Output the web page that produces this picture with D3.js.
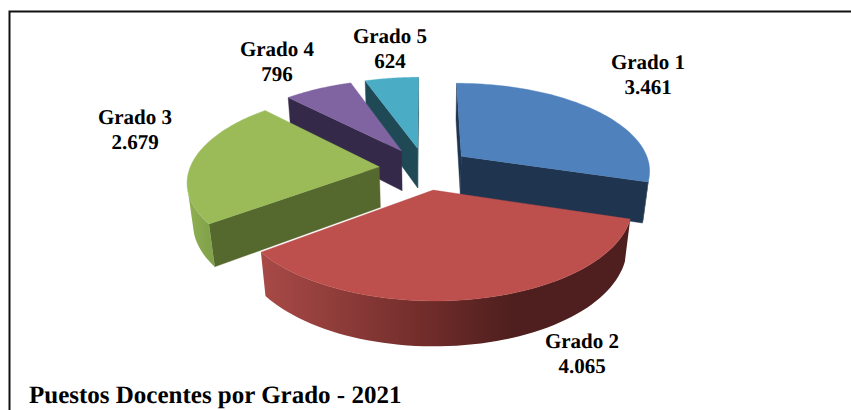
<!DOCTYPE html>
<html>
<head>
<meta charset="utf-8">
<script src="https://cdn.jsdelivr.net/npm/d3@7"></script>
<style>
    html, body { margin: 0; padding: 0; background: #fff; overflow: hidden; }
    text { font-family: "Liberation Serif", serif; font-weight: bold; fill: #000; text-rendering: geometricPrecision; }
</style>
</head>
<body>
<svg id="chart"></svg>
<script>
const categories = ["Grado 1", "Grado 2", "Grado 3", "Grado 4", "Grado 5"];
const values = [3461, 4065, 2679, 796, 624];
const title = "Puestos Docentes por Grado - 2021";

const topColors = ["#4f81bd", "#bd4f4c", "#9bbb59", "#8064a2", "#4bacc6"];
const wallColors = ["#1f344e", "#4e1f1e", "#55682e", "#35294a", "#1f4a55"];

const width = 851;
const height = 410;

// pie geometry, fitted against the picture
const cx = 425;
const cy = 168.5;
const radius = 189.5;
const explode = 46;
const tilt = 0.46;
const depth = 41.5;
const persp = 0.000785;
const perspZ = 0.025;

// where the two line labels sit (centre x, first baseline)
const labelX = [648, 582, 135, 277, 390];
const labelY = [69, 348, 124, 56, 43];

const fmt = d3.formatLocale({ decimal: ",", thousands: ".", grouping: [3], currency: ["", ""] }).format(",d");

const svg = d3.select("#chart").attr("width", width).attr("height", height);

const defs = svg.append("defs");
const redWall = defs.append("linearGradient")
    .attr("id", "red-wall")
    .attr("gradientUnits", "userSpaceOnUse")
    .attr("x1", 262).attr("x2", 630).attr("y1", 0).attr("y2", 0);
redWall.append("stop").attr("offset", "0%").attr("stop-color", "#a84a47");
redWall.append("stop").attr("offset", "45%").attr("stop-color", "#702c2a");
redWall.append("stop").attr("offset", "68%").attr("stop-color", "#4e1f1e");
redWall.append("stop").attr("offset", "100%").attr("stop-color", "#4e1f1e");

const greenWall = defs.append("linearGradient")
    .attr("id", "green-wall")
    .attr("gradientUnits", "userSpaceOnUse")
    .attr("x1", 187).attr("x2", 215).attr("y1", 0).attr("y2", 0);
greenWall.append("stop").attr("offset", "0%").attr("stop-color", "#8fb052");
greenWall.append("stop").attr("offset", "100%").attr("stop-color", "#7f9f49");

const outerFill = ["#1f344e", "url(#red-wall)", "url(#green-wall)", "#35294a", "#1f4a55"];

// frame: only top and left are in the picture
svg.append("path")
    .attr("d", `M9.5,${height}V11.5H${width}`)
    .attr("fill", "none").attr("stroke", "#111").attr("stroke-width", 2);

const slices = d3.pie().sort(null).value(d => d)(values);

// ground plane to screen, z is 0 on the top face and 1 on the bottom
function project(u, v, z) {
    const s = 1 / (1 - v * persp + z * perspZ);
    return [cx + u * s, cy + (tilt * v + depth * z) * s];
}

function outline(slice) {
    const mid = (slice.startAngle + slice.endAngle) / 2;
    const ou = explode * Math.sin(mid);
    const ov = -explode * Math.cos(mid);
    const steps = d3.range(0, 61).map(i => i / 60);
    const arc = steps.map(t => {
        const a = slice.startAngle + t * (slice.endAngle - slice.startAngle);
        return [ou + radius * Math.sin(a), ov - radius * Math.cos(a)];
    });
    return { apex: [ou, ov], arc };
}

const line = d3.line();

function quadOf(a, b) {
    return [project(a[0], a[1], 0), project(b[0], b[1], 0), project(b[0], b[1], 1), project(a[0], a[1], 1)];
}

function isFront(a, b) {
    // edge runs clockwise seen from above, keep it if its wall faces the camera
    return d3.polygonArea(quadOf(a, b)) > 0;
}

function wall(g, a, b, fill) {
    g.append("path").attr("d", line(quadOf(a, b)) + "Z").attr("fill", fill).attr("stroke", fill).attr("stroke-width", 0.4);
}

// painter order, back slices first
const order = [4, 3, 2, 0, 1];

order.forEach(i => {
    const { apex, arc } = outline(slices[i]);
    const g = svg.append("g").attr("class", "slice").attr("data-name", categories[i]);

    // side walls
    if (isFront(apex, arc[0])) wall(g, apex, arc[0], wallColors[i]);
    if (isFront(arc[arc.length - 1], apex)) wall(g, arc[arc.length - 1], apex, wallColors[i]);

    // outer wall, only the part turned to the viewer
    const visible = arc.filter((p, k) => k < arc.length - 1 ? isFront(p, arc[k + 1]) : isFront(arc[k - 1], p));
    if (visible.length > 1) {
        const up = visible.map(p => project(p[0], p[1], 0));
        const down = visible.map(p => project(p[0], p[1], 1)).reverse();
        g.append("path")
            .attr("d", line(up.concat(down)) + "Z")
            .attr("fill", outerFill[i]);
    }

    // top face
    const face = [project(apex[0], apex[1], 0)].concat(arc.map(p => project(p[0], p[1], 0)));
    g.append("path")
        .attr("d", line(face) + "Z")
        .attr("fill", topColors[i])
        .attr("stroke", topColors[i])
        .attr("stroke-width", 0.4);
});

// labels
categories.forEach((name, i) => {
    const t = svg.append("text")
        .attr("text-anchor", "middle")
        .attr("font-size", 21);
    t.append("tspan").attr("x", labelX[i]).attr("y", labelY[i]).text(name);
    t.append("tspan").attr("x", labelX[i]).attr("y", labelY[i] + 25).text(fmt(values[i]));
});

svg.append("text")
    .attr("x", 29)
    .attr("y", 403)
    .attr("font-size", 25)
    .text(title);
</script>
</body>
</html>
